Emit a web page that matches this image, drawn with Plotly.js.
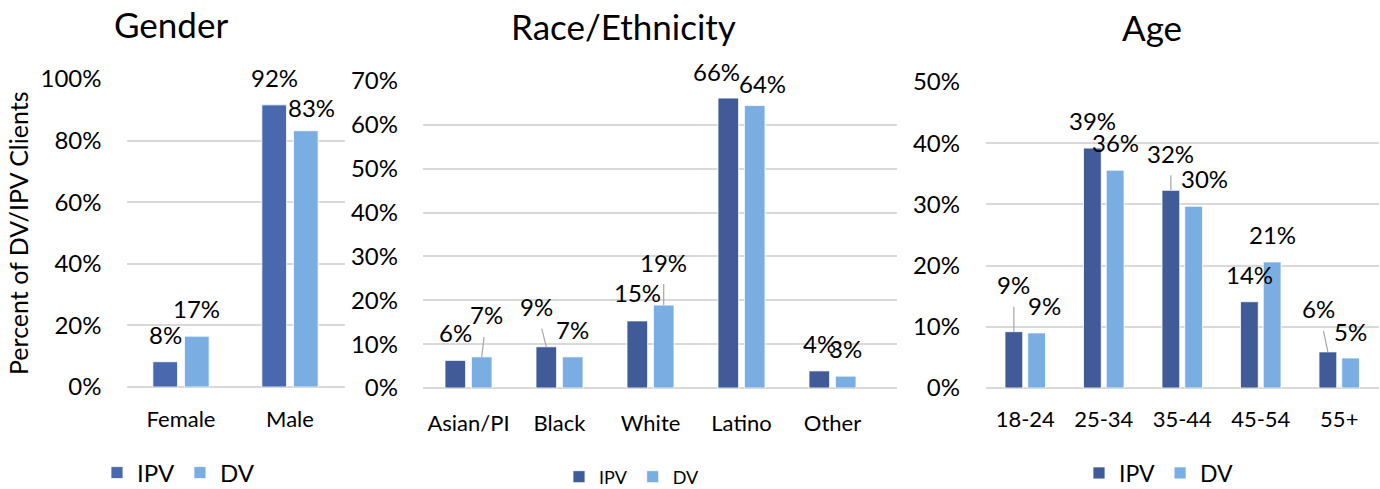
<!DOCTYPE html>
<html>
<head>
<meta charset="utf-8">
<script src="https://cdn.plot.ly/plotly-3.0.1.min.js"></script>
<style>
html,body{margin:0;padding:0;background:#fff;}
#chart{width:1380px;height:489px;}
</style>
</head>
<body>
<div id="chart"></div>
<script>
// ---- data (percent of DV/IPV clients) ----
const genderCats = ["Female", "Male"];
const genderIPV = [8.2, 91.6];
const genderDV = [16.5, 83.2];

const raceCats = ["Asian/PI", "Black", "White", "Latino", "Other"];
const raceIPV = [6.3, 9.4, 15.3, 66.1, 3.9];
const raceDV = [7.1, 7.1, 18.9, 64.4, 2.7];

const ageCats = ["18-24", "25-34", "35-44", "45-54", "55+"];
const ageIPV = [9.2, 39.2, 32.3, 14.1, 5.9];
const ageDV = [9.0, 35.6, 29.7, 20.6, 4.9];

const seriesNames = ["IPV", "DV"];
const panelTitles = ["Gender", "Race/Ethnicity", "Age"];
const yAxisTitle = "Percent of DV/IPV Clients";

// ---- styling ----
const FONT = "Lato, 'Liberation Sans', sans-serif";
const W = 1380, H = 489;
const px = v => v / W;
const py = v => 1 - v / H;
const dvColor = "#7aade2";
const ipvColors = ["#4a68ae", "#405b98", "#405b98"];
const GRID = "#d9d9d9";

// label offsets [ax, ay, leaderLine] per panel, per series (IPV, DV)
const labelOffsets = [
  [[[0,-27,0],[0,-27,0]],
   [[0,-28,0],[6,-23,0]]],
  [[[0,-28,0],[-10,-40,1],[0,-28,0],[-12,-27,0],[0,-27,0]],
   [[5,-42,1],[0,-27,0],[0,-43,1],[8,-22,0],[0,-28,0]]],
  [[[0,-47,1],[0,-28,0],[0,-37,1],[0,-27,0],[-9,-43,1]],
   [[8,-27,0],[0,-28,0],[11,-28,0],[0,-27,0],[0,-27,0]]]
];

const panels = [
  {cats: genderCats, ipv: genderIPV, dv: genderDV, x: [126.5, 344.5], y: [387, 79], range: [0, 100], dtick: 20, xr: [-0.5, 1.5], ystand: 24, xstand: 17},
  {cats: raceCats, ipv: raceIPV, dv: raceDV, x: [423, 897], y: [388, 81], range: [0, 70], dtick: 10, xr: [-0.5, 4.5 + 19/91], ystand: 24, xstand: 20},
  {cats: ageCats, ipv: ageIPV, dv: ageDV, x: [986, 1378.5], y: [388, 82], range: [0, 50], dtick: 10, xr: [-0.5, 4.5], ystand: 25, xstand: 16}
];

const BARGAP = 0.42;
const slot = (1 - BARGAP) / 2;
const traces = [];
const annotations = [];
const layout = {
  width: W, height: H,
  margin: {l: 0, r: 0, t: 0, b: 0, autoexpand: false},
  paper_bgcolor: "#fff", plot_bgcolor: "#fff",
  font: {family: FONT, color: "#000"},
  barmode: "group",
  bargap: BARGAP,
  bargroupgap: 0.22,
  showlegend: true
};

const legendPos = [
  {x: 97, y: 473, size: 24},
  {x: 559, y: 477, size: 18},
  {x: 1079, y: 473, size: 23}
];

panels.forEach((p, i) => {
  const n = i === 0 ? "" : String(i + 1);
  const xa = "x" + n, ya = "y" + n;
  const lg = "legend" + n;
  [p.ipv, p.dv].forEach((vals, s) => {
    traces.push({
      type: "bar",
      name: seriesNames[s],
      x: p.cats,
      y: vals,
      xaxis: xa, yaxis: ya,
      legend: lg,
      marker: {color: s === 0 ? ipvColors[i] : dvColor, line: {color: "#ffffff", width: 0.8}},
      hoverinfo: "skip"
    });
    vals.forEach((v, k) => {
      const off = labelOffsets[i][s][k];
      annotations.push({
        xref: xa, yref: ya,
        x: k + (s === 0 ? -slot / 2 : slot / 2),
        y: v,
        text: Math.round(v) + "%",
        showarrow: true,
        arrowhead: 0,
        arrowwidth: 1.2,
        arrowcolor: off[2] ? "#a6a6a6" : "rgba(0,0,0,0)",
        ax: off[0], ay: off[1],
        startstandoff: off[2] ? 6 : 0,
        font: {family: FONT, size: 24, color: "#000"}
      });
    });
  });
  layout["xaxis" + n] = {
    domain: [px(p.x[0]), px(p.x[1])],
    anchor: ya,
    type: "category",
    range: p.xr,
    showgrid: false, zeroline: false, showline: false,
    ticks: "", ticklabelstandoff: p.xstand,
    tickfont: {family: FONT, size: 22, color: "#000"}
  };
  layout["yaxis" + n] = {
    domain: [py(p.y[0]), py(p.y[1])],
    anchor: xa,
    range: p.range,
    dtick: p.dtick,
    ticksuffix: "%",
    showgrid: true, gridcolor: GRID, gridwidth: 2,
    zeroline: true, zerolinecolor: GRID, zerolinewidth: 2,
    showline: false, ticks: "", ticklabelstandoff: p.ystand,
    tickfont: {family: FONT, size: 24, color: "#000"},
    fixedrange: true
  };
  layout[lg] = {
    orientation: "h",
    x: px(legendPos[i].x), y: py(legendPos[i].y),
    xanchor: "left", yanchor: "middle",
    font: {family: FONT, size: legendPos[i].size, color: "#000"},
    bgcolor: "rgba(0,0,0,0)",
    itemclick: false, itemdoubleclick: false,
    tracegroupgap: 0
  };
});

const titlePos = [[171, 24], [623, 26], [1152, 27]];
panelTitles.forEach((t, i) => {
  annotations.push({
    xref: "paper", yref: "paper",
    x: px(titlePos[i][0]), y: py(titlePos[i][1]),
    xanchor: "center", yanchor: "middle",
    text: t, showarrow: false,
    font: {family: FONT, size: 35, color: "#000"}
  });
});
annotations.push({
  xref: "paper", yref: "paper",
  x: px(18), y: py(233),
  xanchor: "center", yanchor: "middle",
  text: yAxisTitle, showarrow: false, textangle: -90,
  font: {family: FONT, size: 25, color: "#000"}
});

layout.annotations = annotations;
Plotly.newPlot("chart", traces, layout, {displayModeBar: false, staticPlot: true});
</script>
</body>
</html>
